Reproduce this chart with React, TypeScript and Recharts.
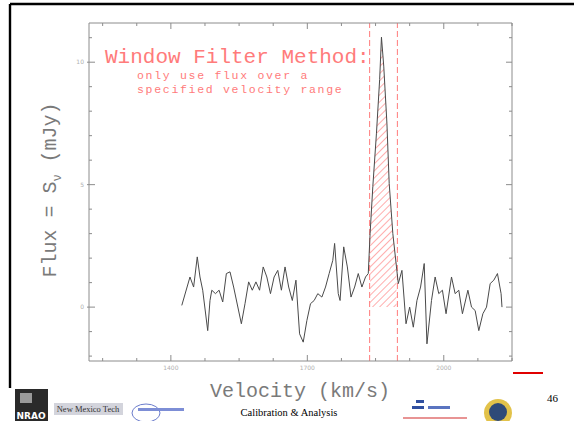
import { Area, ComposedChart, Line, ReferenceLine, XAxis, YAxis } from 'recharts'

// spectrum channels (km/s, mJy)
const velocity = [
  1424, 1442, 1450, 1458, 1464, 1470, 1481, 1486, 1490, 1498,
  1506, 1514, 1522, 1530, 1538, 1555, 1563, 1571, 1579, 1587,
  1595, 1603, 1611, 1619, 1627, 1635, 1643, 1651, 1659, 1667,
  1675, 1683, 1691, 1699, 1707, 1715, 1723, 1732, 1740, 1748,
  1756, 1760, 1768, 1772, 1780, 1788, 1796, 1804, 1812, 1820,
  1828, 1834, 1838, 1844, 1852, 1859, 1863, 1868, 1875, 1880,
  1888, 1896, 1900, 1908, 1917, 1925, 1933, 1941, 1949, 1957,
  1963, 1973, 1981, 1989, 1997, 2005, 2017, 2025, 2033, 2041,
  2053, 2061, 2069, 2077, 2086, 2094, 2102, 2110, 2118, 2126,
  2128,
]

const flux = [
  0.07, 1.23, 0.82, 2.05, 1.23, 0.69, -0.96, 0.27, 0.69, 0.55,
  0.69, 0.21, 1.37, 1.44, 0.82, -0.68, 0.14, 1.03, 0.69, 1.03,
  0.69, 1.64, 1.23, 0.55, 1.23, 1.5, 0.69, 1.64, 0.82, 0.27,
  1.1, -1.09, -1.43, -0.55, 0.14, 0.27, 0.55, 0.41, 0.82, 1.37,
  1.91, 2.6, 0.55, 0.27, 2.46, 1.64, 0.41, 0.82, 1.37, 0.82,
  1.23, 1.37, 3.0, 4.92, 7.1, 9.29, 11.02, 9.84, 7.51, 5.05,
  3.0, 1.64, 0.96, 1.5, -0.68, 0.0, -0.82, 0.27, 0.82, 1.78,
  -1.5, 0.27, 1.23, 0.55, 0.69, -0.27, 1.23, 0.55, 0.69, -0.27,
  0.69, 0.0, -0.14, -0.96, -0.27, 0.0, 0.96, 1.1, 1.37, 0.55,
  0.0,
]

const windowLo = 1837
const windowHi = 1898

const xTicks = [1250, 1325, 1400, 1475, 1550, 1625, 1700, 1775, 1850, 1925, 2000, 2075, 2150]
const xMajor = [1400, 1700, 2000]
const yTicks = [-2, -1, 0, 1, 2, 3, 4, 5, 6, 7, 8, 9, 10, 11]
const yMajor = [0, 5, 10]

const data = velocity.map((v, i) => ({
  v,
  flux: flux[i],
  win: v >= windowLo && v <= windowHi ? flux[i] : null,
}))

const axisGrey = '#8c8c8c'
const labelGrey = '#b0b0b0'
const titleGrey = '#7a7a7a'
const pink = '#ff7b7b'

function BottomTick(props: any) {
  const { x, y, payload } = props
  const major = xMajor.includes(payload.value)
  return (
    <g>
      <line x1={x} y1={y} x2={x} y2={y - (major ? 6 : 3)} stroke={axisGrey} />
      {major && (
        <text x={x} y={y + 9} textAnchor="middle" fontSize={6} fontFamily="DejaVu Sans" fill={labelGrey}>
          {payload.value}
        </text>
      )}
    </g>
  )
}

function TopTick(props: any) {
  const { x, y, payload } = props
  const major = xMajor.includes(payload.value)
  return <line x1={x} y1={y} x2={x} y2={y + (major ? 6 : 3)} stroke={axisGrey} />
}

function LeftTick(props: any) {
  const { x, y, payload } = props
  const major = yMajor.includes(payload.value)
  return (
    <g>
      <line x1={x - (major ? 2 : 0)} y1={y} x2={x + (major ? 6 : 3)} y2={y} stroke={axisGrey} />
      {major && (
        <text x={x - 5} y={y + 2} textAnchor="end" fontSize={6} fontFamily="DejaVu Sans" fill={labelGrey}>
          {payload.value}
        </text>
      )}
    </g>
  )
}

function RightTick(props: any) {
  const { x, y, payload } = props
  const major = yMajor.includes(payload.value)
  return <line x1={x} y1={y} x2={x - (major ? 6 : 3)} y2={y} stroke={axisGrey} />
}

function Overlay() {
  return (
    <svg width={574} height={421} style={{ position: 'absolute', left: 0, top: 0, pointerEvents: 'none' }}>
      {/* slide frame */}
      <line x1={10} y1={4} x2={574} y2={4} stroke="#000" strokeWidth={2.4} />
      <line x1={10} y1={4} x2={10} y2={388} stroke="#000" strokeWidth={2.4} />

      {/* annotation */}
      <text x={105} y={63} fontFamily="Liberation Mono" fontSize={21} fill={pink}>
        Window Filter Method:
      </text>
      <text x={137} y={79} fontFamily="Liberation Mono" fontSize={11.5} letterSpacing={1.7} fill={pink}>
        only use flux over a
      </text>
      <text x={137} y={92.5} fontFamily="Liberation Mono" fontSize={11.5} letterSpacing={1.7} fill={pink}>
        specified velocity range
      </text>

      {/* axis titles */}
      <text x={300} y={397} textAnchor="middle" fontFamily="Liberation Mono" fontSize={20} fill={titleGrey}>
        Velocity (km/s)
      </text>
      <text
        transform="translate(56,190) rotate(-90)"
        textAnchor="middle"
        fontFamily="Liberation Mono"
        fontSize={20}
        fill={titleGrey}
      >
        Flux = S
        <tspan fontSize={12} dy={5}>ν</tspan>
        <tspan dy={-5}> (mJy)</tspan>
      </text>

      {/* footer */}
      <line x1={513} y1={373} x2={543} y2={373} stroke="#e00000" strokeWidth={2} />
      <text x={558} y={402} textAnchor="end" fontFamily="Liberation Serif" fontSize={11} fill="#000">
        46
      </text>
      <text x={289} y={416} textAnchor="middle" fontFamily="Liberation Serif" fontSize={10.5} fill="#000">
        Calibration &amp; Analysis
      </text>

      {/* logos */}
      <rect x={15} y={389} width={33} height={32} fill="#2a2a2a" />
      <rect x={20} y={393} width={12} height={10} fill="#9a9a9a" />
      <text x={31} y={419} textAnchor="middle" fontFamily="DejaVu Sans" fontWeight="bold" fontSize={9} fill="#fff">
        NRAO
      </text>
      <rect x={54} y={403} width={69} height={12} fill="#d3d4dc" />
      <text x={88} y={412} textAnchor="middle" fontFamily="Liberation Serif" fontSize={8.5} fill="#333">
        New Mexico Tech
      </text>
      <ellipse cx={146} cy={413} rx={14} ry={9} fill="none" stroke="#6b7ccc" strokeWidth={1} />
      <rect x={138} y={408} width={46} height={3} fill="#7d8ed6" />
      <rect x={416} y={400} width={8} height={3} fill="#3050a0" />
      <rect x={412} y={406} width={12} height={3} fill="#3050a0" />
      <rect x={428} y={406} width={22} height={3} fill="#5a74c0" />
      <line x1={403} y1={418} x2={467} y2={418} stroke="#e89494" strokeWidth={2} />
      <circle cx={498} cy={413} r={14} fill="#e2c24a" />
      <circle cx={498} cy={412} r={9} fill="#2f4a78" />
    </svg>
  )
}

export default function App() {
  return (
    <div style={{ position: 'absolute', left: 0, top: 0, width: 574, height: 421, background: '#fff' }}>
      <ComposedChart width={574} height={421} data={data} margin={{ top: 22, right: 61, bottom: 59, left: 88 }}>
        <defs>
          <pattern id="hatch" width="5" height="5" patternUnits="userSpaceOnUse" patternTransform="rotate(45)">
            <line x1="0" y1="0" x2="0" y2="5" stroke="#ff8080" strokeWidth="1.3" />
          </pattern>
        </defs>
        <XAxis
          dataKey="v"
          type="number"
          domain={[1220, 2150]}
          ticks={xTicks}
          interval={0}
          allowDataOverflow
          height={1}
          tickSize={0}
          tickMargin={0}
          tickLine={false}
          axisLine={{ stroke: axisGrey }}
          tick={BottomTick}
        />
        <XAxis
          xAxisId="top"
          orientation="top"
          dataKey="v"
          type="number"
          domain={[1220, 2150]}
          ticks={xTicks}
          interval={0}
          allowDataOverflow
          height={1}
          tickSize={0}
          tickMargin={0}
          tickLine={false}
          axisLine={{ stroke: axisGrey }}
          tick={TopTick}
        />
        <YAxis
          type="number"
          domain={[-2.2, 11.6]}
          ticks={yTicks}
          interval={0}
          allowDataOverflow
          width={1}
          tickSize={0}
          tickMargin={0}
          tickLine={false}
          axisLine={{ stroke: axisGrey }}
          tick={LeftTick}
        />
        <YAxis
          yAxisId="right"
          orientation="right"
          type="number"
          domain={[-2.2, 11.6]}
          ticks={yTicks}
          interval={0}
          allowDataOverflow
          width={1}
          tickSize={0}
          tickMargin={0}
          tickLine={false}
          axisLine={{ stroke: axisGrey }}
          tick={RightTick}
        />
        <Area
          xAxisId="top"
          yAxisId="right"
          type="linear"
          dataKey="win"
          stroke="none"
          fill="url(#hatch)"
          fillOpacity={1}
          baseValue={0}
          dot={false}
          activeDot={false}
          isAnimationActive={false}
        />
        <ReferenceLine x={windowLo} stroke={pink} strokeDasharray="6 3" />
        <ReferenceLine x={windowHi} stroke={pink} strokeDasharray="6 3" />
        <Line
          type="linear"
          dataKey="flux"
          stroke="#4a4a4a"
          strokeWidth={1}
          dot={false}
          activeDot={false}
          isAnimationActive={false}
        />
      </ComposedChart>
      <Overlay />
    </div>
  )
}
